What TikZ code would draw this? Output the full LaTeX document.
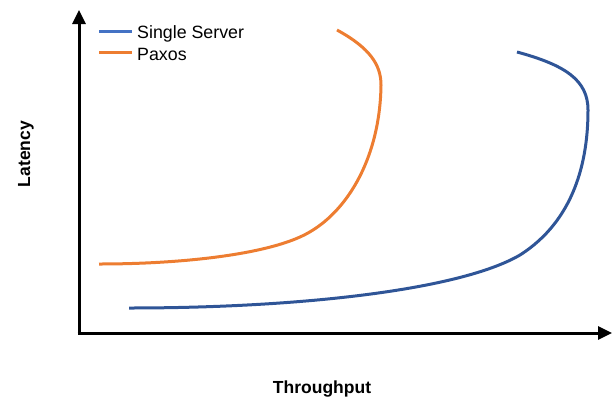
\documentclass[tikz,border=0pt]{standalone}
\usepackage{fontspec}
\setmainfont{Liberation Sans}
\usetikzlibrary{arrows.meta}
\definecolor{legblue}{HTML}{4472C4}
\definecolor{curveblue}{HTML}{2F5597}
\definecolor{paxorange}{HTML}{ED7D31}
\tikzset{
  axis/.style={line width=3pt,-{Triangle[length=14pt,width=13pt]}},
  curve/.style={line width=3pt},
  leg/.style={line width=3pt},
  axlabel/.style={font=\fontsize{17.5}{20}\selectfont\bfseries,inner sep=0pt},
  legtext/.style={font=\fontsize{17.8}{20}\selectfont,inner sep=0pt,anchor=base west},
}
\begin{document}
\begin{tikzpicture}[x=1pt,y=-1pt]
\useasboundingbox (0,0) rectangle (612,399);
\coordinate (O) at (79,333);
\coordinate (ytip) at (79,10);
\coordinate (xtip) at (612,333);
\draw[axis] (O) -- (ytip);
\draw[axis] ([xshift=-1.5pt]O) -- (xtip);
\node[axlabel,rotate=90] (ylab) at (26,154) {Latency};
\node[axlabel,anchor=base] (xlab) at (322,393) {Throughput};
% legend
\coordinate (lb1) at (99,31);
\coordinate (lb2) at (132,31);
\coordinate (lo1) at (99,52);
\coordinate (lo2) at (132,52);
\draw[leg,legblue] (lb1) -- (lb2);
\draw[leg,paxorange] (lo1) -- (lo2);
\node[legtext] (tb) at (137,38) {Single Server};
\node[legtext] (to) at (137,60) {Paxos};
% Paxos curve
\coordinate (p0) at (99,264);
\coordinate (p1) at (300,237);
\coordinate (p2) at (381,85);
\coordinate (p3) at (337,30);
\draw[curve,paxorange] (p0) .. controls (180,264) and (260,255) .. (p1)
  .. controls (345,217) and (380,160) .. (p2)
  .. controls (381,65) and (370,48) .. (p3);
% Single server curve
\coordinate (s0) at (129,308);
\coordinate (s1) at (520,255);
\coordinate (s2) at (588,110);
\coordinate (s3) at (517,52);
\draw[curve,curveblue] (s0) .. controls (300,308) and (460,290) .. (s1)
  .. controls (575,220) and (588,160) .. (s2)
  .. controls (588,80) and (565,65) .. (s3);
\end{tikzpicture}
\end{document}
